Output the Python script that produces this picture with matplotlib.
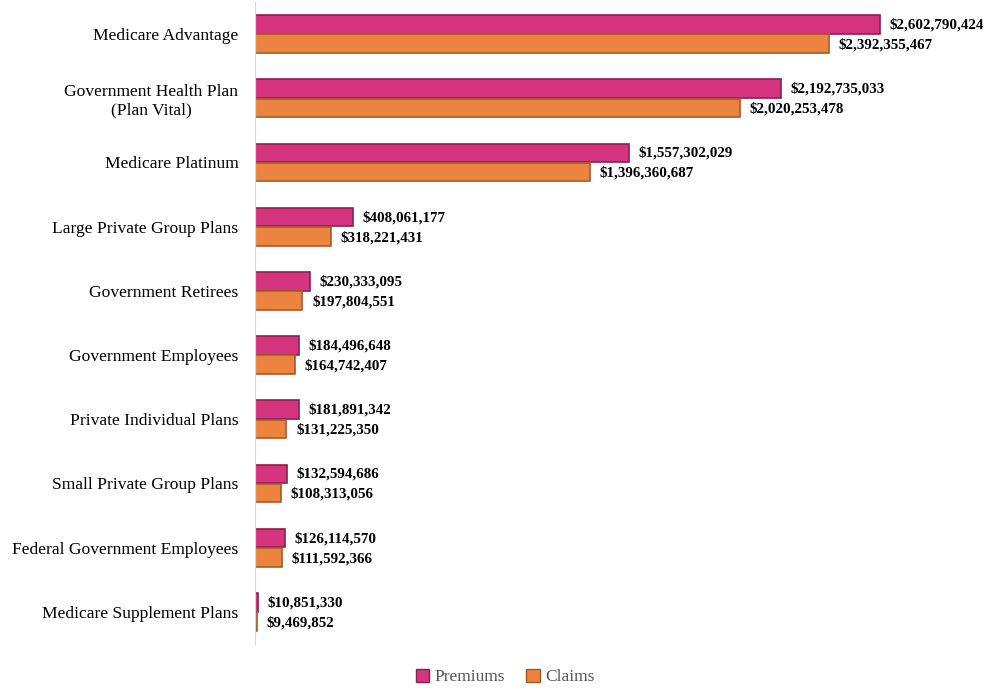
import numpy as np
import matplotlib.pyplot as plt
from matplotlib.patches import Patch

categories = ['Medicare Advantage', 'Government Health Plan\n(Plan Vital)', 'Medicare Platinum',
              'Large Private Group Plans', 'Government Retirees', 'Government Employees',
              'Private Individual Plans', 'Small Private Group Plans', 'Federal Government Employees',
              'Medicare Supplement Plans']
premiums = [2602790424, 2192735033, 1557302029, 408061177, 230333095,
            184496648, 181891342, 132594686, 126114570, 10851330]
claims = [2392355467, 2020253478, 1396360687, 318221431, 197804551,
          164742407, 131225350, 108313056, 111592366, 9469852]

plt.rcParams['font.family'] = ['Liberation Serif', 'DejaVu Serif']

pink = '#D6347F'
pink_edge = '#8A1F50'
orange = '#EC8440'
orange_edge = '#A45A28'

fig = plt.figure(figsize=(9.84, 6.88), dpi=100)
ax1 = fig.add_axes([255 / 984, 1 - 644 / 688, 720 / 984, 642 / 688])

yy = np.arange(len(categories))
h = 0.29
ax1.barh(yy - h / 2 - 0.005, premiums, height=h, color=pink, edgecolor=pink_edge, linewidth=1.2)
ax1.barh(yy + h / 2 + 0.005, claims, height=h, color=orange, edgecolor=orange_edge, linewidth=1.2)

off = 40000000
for i in range(len(categories)):
    ax1.text(premiums[i] + off, yy[i] - h / 2, '${:,}'.format(premiums[i]), va='center', ha='left',
             fontsize=10.8, fontweight='bold')
    ax1.text(claims[i] + off, yy[i] + h / 2 + 0.02, '${:,}'.format(claims[i]), va='center', ha='left',
             fontsize=10.8, fontweight='bold')

ax1.set_ylim(len(categories) - 0.5, -0.5)
ax1.set_xlim(0, 3.0e9)
ax1.set_yticks(yy)
ax1.set_yticklabels(categories, fontsize=12.6, multialignment='center')
ax1.tick_params(axis='y', length=0, pad=12)
ax1.set_xticks([])
for s in ['top', 'right', 'bottom']:
    ax1.spines[s].set_visible(False)
ax1.spines['left'].set_color('#D9D9D9')

handles = [Patch(facecolor=pink, edgecolor=pink_edge, label='Premiums'),
           Patch(facecolor=orange, edgecolor=orange_edge, label='Claims')]
fig.legend(handles=handles, loc='center', bbox_to_anchor=(505 / 984, 1 - 677 / 688), ncol=2, frameon=False,
           fontsize=12.5, handlelength=0.8, handleheight=0.8, handletextpad=0.3, columnspacing=1.2,
           labelcolor='#555555')

fig.savefig('out.png', dpi=100)
